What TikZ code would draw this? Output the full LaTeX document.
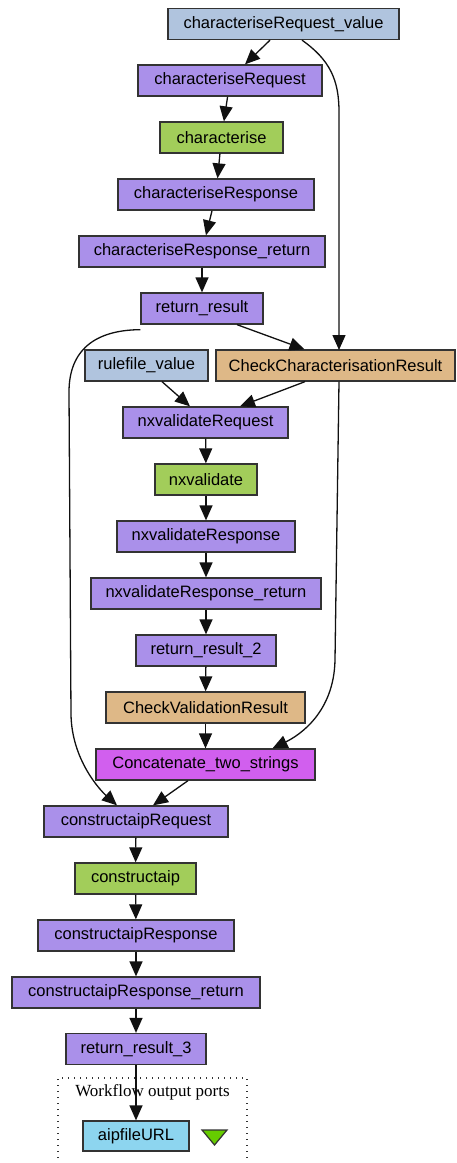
\documentclass[tikz,border=0pt]{standalone}
\usepackage{fontspec}
\setmainfont{Liberation Sans}
\newfontfamily\serifport{Liberation Serif}
\usetikzlibrary{arrows.meta}
\definecolor{cinput}{HTML}{B0C4DE}
\definecolor{cxml}{HTML}{AA90EA}
\definecolor{cwsdl}{HTML}{A2CD5A}
\definecolor{ctan}{HTML}{DEB887}
\definecolor{cconcat}{HTML}{D15FEE}
\definecolor{cout}{HTML}{8DD5EF}
\definecolor{cedge}{HTML}{111111}
\definecolor{cborder}{HTML}{333333}
\definecolor{ctri}{HTML}{66CC00}
\begin{document}
\begin{tikzpicture}[x=1pt,y=-1pt,
  pbox/.style={draw=cborder,line width=1.3pt,rectangle,inner sep=0pt,minimum height=31pt,
    font=\fontsize{16.5}{18}\selectfont},
  conn/.style={draw=cedge,line width=1.3pt,-{Triangle[length=15pt,width=13pt]}}]
\useasboundingbox (0,0) rectangle (456,1163);
\node[pbox,fill=cinput,minimum width=231pt] (crv) at (283.5,24) {characteriseRequest\_value};
\node[pbox,fill=cxml,minimum width=184pt] (cr) at (230,80.5) {characteriseRequest};
\node[pbox,fill=cwsdl,minimum width=123pt] (ch) at (221.5,137.5) {characterise};
\node[pbox,fill=cxml,minimum width=196pt] (cresp) at (216,194.5) {characteriseResponse};
\node[pbox,fill=cxml,minimum width=246pt] (cret) at (202,251.5) {characteriseResponse\_return};
\node[pbox,fill=cxml,minimum width=122pt] (rr) at (202,308.5) {return\_result};
\node[pbox,fill=cinput,minimum width=123pt] (rfv) at (146.5,365.5) {rulefile\_value};
\node[pbox,fill=ctan,minimum width=239pt] (ccr) at (335.5,365.5) {CheckCharacterisationResult};
\node[pbox,fill=cxml,minimum width=165pt] (nvr) at (205.5,422.5) {nxvalidateRequest};
\node[pbox,fill=cwsdl,minimum width=102pt] (nv) at (206,479.5) {nxvalidate};
\node[pbox,fill=cxml,minimum width=178pt] (nvresp) at (206,536.5) {nxvalidateResponse};
\node[pbox,fill=cxml,minimum width=230pt] (nvret) at (206,593.5) {nxvalidateResponse\_return};
\node[pbox,fill=cxml,minimum width=140pt] (rr2) at (206,650.5) {return\_result\_2};
\node[pbox,fill=ctan,minimum width=199pt] (cvr) at (205.5,707.5) {CheckValidationResult};
\node[pbox,fill=cconcat,minimum width=219pt] (cat) at (205.5,764.5) {Concatenate\_two\_strings};
\node[pbox,fill=cxml,minimum width=184pt] (cir) at (136,821.5) {constructaipRequest};
\node[pbox,fill=cwsdl,minimum width=121pt] (ci) at (135.5,878.5) {constructaip};
\node[pbox,fill=cxml,minimum width=196pt] (ciresp) at (136,935.5) {constructaipResponse};
\node[pbox,fill=cxml,minimum width=248pt] (ciret) at (136,992.5) {constructaipResponse\_return};
\node[pbox,fill=cxml,minimum width=140pt] (rr3) at (136,1049) {return\_result\_3};
% output ports cluster
\draw[line width=1.4pt,dash pattern=on 1.4pt off 4.6pt,draw=cborder] (58,1170) -- (58,1078) -- (247,1078) -- (247,1170);
\node[font=\serifport\fontsize{17}{19}\selectfont,inner sep=0pt] (ttl) at (152.5,1092) {Workflow output ports};
\node[pbox,fill=cout,minimum width=106pt,minimum height=30pt] (aip) at (136,1136) {aipfileURL};
\draw[fill=ctri,draw=cborder,line width=1.2pt] (202,1130) -- (227,1130) -- (214.5,1145) -- cycle;
% edges
\draw[conn] ([xshift=-13.5pt]crv.south) -- ([xshift=15pt]cr.north);
\draw[conn] ([xshift=18.5pt]crv.south) .. controls (330,60) and (339,80) .. (339,112) -- (339,350);
\draw[conn] (cr) -- (ch);
\draw[conn] (ch) -- (cresp);
\draw[conn] (cresp) -- (cret);
\draw[conn] (cret) -- (rr);
\draw[conn] ([xshift=35pt]rr.south) -- ([xshift=-31pt]ccr.north);
\draw[conn] ([yshift=-5pt]rr.south west) .. controls (95,330) and (69,350) .. (69,392) -- (71,715) .. controls (72,760) and (100,790) .. ([xshift=-19pt]cir.north);
\draw[conn] ([xshift=15.5pt]rfv.south) -- ([xshift=-15.5pt]nvr.north);
\draw[conn] ([xshift=-30.5pt]ccr.south) -- ([xshift=34.5pt]nvr.north);
\draw[conn] ([xshift=3.5pt]ccr.south) -- (335,660) .. controls (334,712) and (300,735) .. ([xshift=67pt]cat.north);
\draw[conn] (nvr) -- (nv);
\draw[conn] (nv) -- (nvresp);
\draw[conn] (nvresp) -- (nvret);
\draw[conn] (nvret) -- (rr2);
\draw[conn] (rr2) -- (cvr);
\draw[conn] (cvr) -- (cat);
\draw[conn] ([xshift=-17.5pt]cat.south) -- ([xshift=17pt]cir.north);
\draw[conn] (cir) -- (ci);
\draw[conn] (ci) -- (ciresp);
\draw[conn] (ciresp) -- (ciret);
\draw[conn] (ciret) -- (rr3);
\draw[conn] (rr3) -- (aip);
\end{tikzpicture}
\end{document}
